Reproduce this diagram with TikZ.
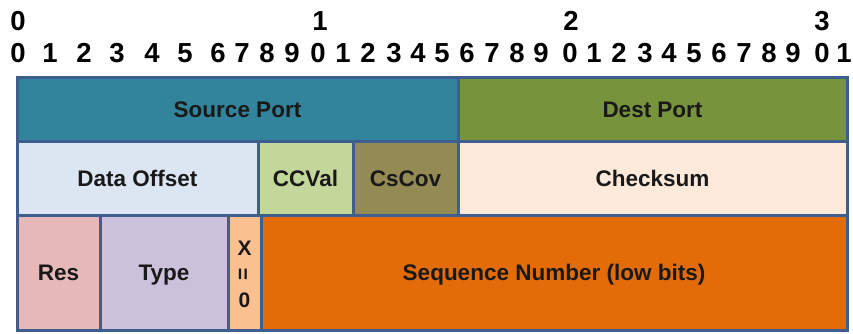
\documentclass[tikz,border=0pt]{standalone}
\usepackage{fontspec}
\setmainfont{Liberation Sans}
\definecolor{bordc}{HTML}{3D5E8E}
\definecolor{srcc}{HTML}{31849B}
\definecolor{dstc}{HTML}{77933C}
\definecolor{offc}{HTML}{DCE6F2}
\definecolor{ccvc}{HTML}{C4D79B}
\definecolor{cscc}{HTML}{948A54}
\definecolor{chkc}{HTML}{FDEADA}
\definecolor{resc}{HTML}{E6B9B8}
\definecolor{typc}{HTML}{CCC1DA}
\definecolor{xc}{HTML}{FAC090}
\definecolor{seqc}{HTML}{E36C09}
\newcommand\fieldbox[7]{\node[fld, fill=#6, minimum width={#4-#2}, minimum height={#5-#3}] (#1) at ({(#2+#4)/2},{(#3+#5)/2}) {#7};}
\newcommand\bitdigit[4]{\node[dig] (#1) at (#2,#3) {#4};}
\begin{document}
\begin{tikzpicture}[x=1pt,y=-1pt,
  fld/.style={draw=bordc, line width=3pt, inner sep=0pt, outer sep=0pt,
    text height=16pt, text depth=0pt,
    font=\fontsize{22.5}{24}\selectfont\bfseries, text=black!90, align=center},
  xlab/.style={font=\fontsize{21}{22}\selectfont\bfseries, inner sep=0pt, text=black!90},
  dig/.style={inner sep=0pt, font=\fontsize{27.5}{28}\selectfont\bfseries}]
\useasboundingbox (0,0) rectangle (853,334);
% shadow under boxes
\fill[black!25] (19,80) rectangle (849,332);
% row 1
\fieldbox{src}{17}{78}{458}{141}{srcc}{Source Port}
\fieldbox{dst}{458}{78}{847}{141}{dstc}{Dest Port}
% row 2
\fieldbox{off}{17}{141}{258}{215}{offc}{Data Offset}
\fieldbox{ccv}{258}{141}{353}{215}{ccvc}{CCVal}
\fieldbox{csc}{353}{141}{458}{215}{cscc}{CsCov}
\fieldbox{chk}{458}{141}{847}{215}{chkc}{Checksum}
% row 3
\fieldbox{res}{17}{215}{100}{330}{resc}{Res}
\fieldbox{typ}{100}{215}{228}{330}{typc}{Type}
\fieldbox{xz}{228}{215}{261}{330}{xc}{}
\fieldbox{seq}{261}{215}{847}{330}{seqc}{Sequence Number (low bits)}
\node[xlab] (xl) at (244.5,248) {X};
\node[xlab] (eql) at (244.5,274) {\rotatebox{90}{=}};
\node[xlab] (zl) at (244.5,300) {0};
% top digits
\bitdigit{ta}{18}{21}{0}
\bitdigit{tb}{320}{21}{1}
\bitdigit{tc}{571}{21}{2}
\bitdigit{td}{822}{21}{3}
% bit digits
\foreach \xx [count=\i from 0] in {18,50,84,117,152,185,218,242,267,292,318,343,368,394,418,442,467,492,517,541,570,594,619,645,669,694,719,744,769,793,822,844}{
  \pgfmathtruncatemacro{\dd}{mod(\i,10)}
  \bitdigit{b\i}{\xx}{53}{\dd}
}
\end{tikzpicture}
\end{document}
